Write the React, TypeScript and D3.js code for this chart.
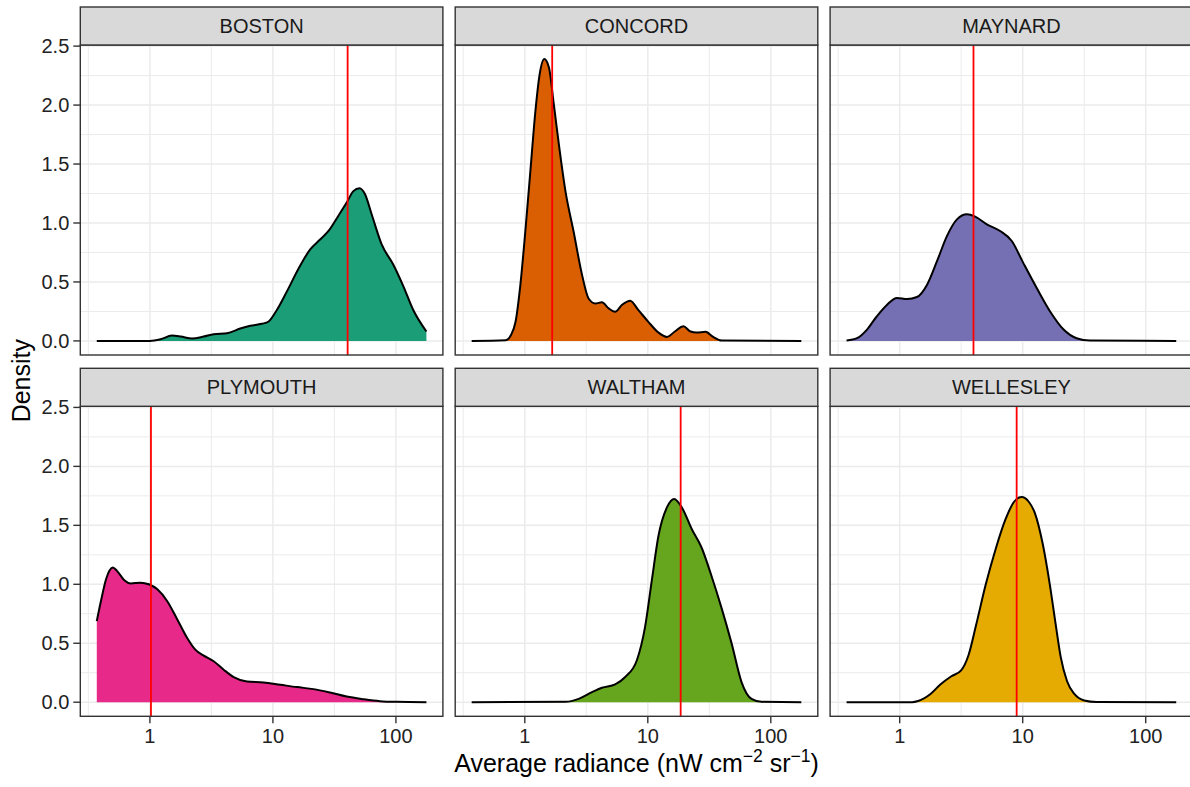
import React, { useEffect, useRef } from 'react';
import * as d3 from 'd3';

// facets, fills, median radiance (red lines)
const cities = ['BOSTON', 'CONCORD', 'MAYNARD', 'PLYMOUTH', 'WALTHAM', 'WELLESLEY'];
const fills = ['#1B9E77', '#D95F02', '#7570B3', '#E7298A', '#66A61E', '#E6AB02'];
const medians = [40.5, 1.67, 3.98, 1.02, 18.5, 8.93];

// density curves: [radiance, density]
const boston = [
  [0.37, 0], [1.0, 0], [1.22, 0.014], [1.51, 0.045], [1.78, 0.037], [2.2, 0.02], [2.74, 0.037],
  [3.3, 0.057], [4.24, 0.065], [5.43, 0.105], [6.55, 0.128], [8.13, 0.145], [9.23, 0.165],
  [10.8, 0.264], [13.0, 0.42], [16.1, 0.61], [20.1, 0.776], [24.2, 0.86], [28.2, 0.93],
  [34.0, 1.06], [39.8, 1.173], [45.1, 1.27], [50.5, 1.295], [56.1, 1.244], [63.5, 1.074],
  [76.6, 0.818], [95.1, 0.648], [115, 0.463], [138, 0.264], [177, 0.08],
];
const concord = [
  [0.37, 0], [0.7, 0.006], [0.77, 0.048], [0.84, 0.16], [0.92, 0.474], [1.01, 0.93], [1.11, 1.44],
  [1.22, 1.95], [1.32, 2.26], [1.44, 2.39], [1.57, 2.32], [1.72, 2.01], [1.89, 1.67], [2.14, 1.27],
  [2.49, 0.93], [2.92, 0.56], [3.3, 0.36], [3.74, 0.318], [4.24, 0.327], [4.8, 0.276], [5.43, 0.247],
  [6.15, 0.304], [7.19, 0.341], [8.39, 0.261], [10.1, 0.162], [12.2, 0.071], [14.3, 0.034],
  [16.7, 0.082], [19.5, 0.125], [22.0, 0.082], [24.9, 0.071], [29.5, 0.077], [34.0, 0.034],
  [39.8, 0.003], [177, 0],
];
const maynard = [
  [0.37, 0.003], [0.45, 0.023], [0.54, 0.094], [0.65, 0.207], [0.79, 0.307], [0.95, 0.364],
  [1.15, 0.355], [1.38, 0.372], [1.67, 0.477], [2.01, 0.676], [2.42, 0.889], [2.92, 1.031],
  [3.52, 1.074], [4.11, 1.054], [5.11, 0.989], [6.55, 0.932], [8.15, 0.847], [10.1, 0.662],
  [13.0, 0.449], [16.7, 0.25], [21.4, 0.099], [27.4, 0.023], [35.2, 0.003], [177, 0],
];
const plymouth = [
  [0.37, 0.688], [0.4, 0.858], [0.44, 1.043], [0.5, 1.142], [0.54, 1.114], [0.62, 1.034],
  [0.7, 1.006], [0.84, 1.014], [0.98, 1.0], [1.15, 0.957], [1.38, 0.858], [1.67, 0.702],
  [2.01, 0.545], [2.34, 0.446], [2.74, 0.395], [3.3, 0.347], [3.98, 0.276], [4.8, 0.213],
  [6.15, 0.176], [8.39, 0.168], [11.5, 0.148], [15.7, 0.128], [21.4, 0.111], [29.2, 0.082],
  [39.8, 0.048], [54.3, 0.026], [74.1, 0.009], [101, 0.003], [177, 0],
];
const waltham = [
  [0.37, 0], [2.14, 0.003], [2.74, 0.028], [3.52, 0.085], [4.24, 0.123], [5.43, 0.151],
  [6.55, 0.214], [8.15, 0.356], [9.51, 0.641], [10.8, 1.04], [12.2, 1.41], [14.3, 1.652],
  [16.4, 1.724], [18.9, 1.652], [22.8, 1.467], [27.4, 1.31], [33.0, 1.068], [39.8, 0.798],
  [48.0, 0.499], [57.8, 0.171], [69.7, 0.028], [83.9, 0.003], [177, 0],
];
const wellesley = [
  [0.37, 0], [1.26, 0], [1.41, 0.01], [1.78, 0.07], [2.14, 0.15], [2.63, 0.22], [3.16, 0.27],
  [3.63, 0.4], [4.17, 0.65], [5.01, 1.0], [6.03, 1.3], [7.24, 1.55], [8.51, 1.7], [9.77, 1.74],
  [11.2, 1.7], [12.6, 1.6], [14.5, 1.35], [16.6, 1.0], [18.6, 0.65], [20.4, 0.38], [22.9, 0.18],
  [26.3, 0.07], [31.6, 0.015], [39.8, 0.002], [177, 0],
];
const series = [boston, concord, maynard, plymouth, waltham, wellesley];

const xTicks = [1, 10, 100];
const xMinor = [0.316, 3.16, 31.6];
const yTicks = [0, 0.5, 1, 1.5, 2, 2.5];
const yMinor = [0.25, 0.75, 1.25, 1.75, 2.25];

const FONT = '"Liberation Sans", Arial, sans-serif';

function App() {
  const ref = useRef<SVGSVGElement>(null);

  const width = 1190;
  const height = 787;
  const left = 80.3;
  const panelW = 362.6;
  const gapX = 12.3;
  const rowTops = [7, 368.3];
  const stripH = 38;
  const panelH = 310;

  useEffect(() => {
    const svg = d3.select(ref.current);
    svg.selectAll('*').remove();

    const all = series.flat() as number[][];
    const lo = Math.log10(d3.min(all, d => d[0])!);
    const hi = Math.log10(d3.max(all, d => d[0])!);
    const pad = (hi - lo) * 0.05;
    const x = d3.scaleLog().domain([10 ** (lo - pad), 10 ** (hi + pad)]).range([0, panelW]);
    const yMax = d3.max(all, d => d[1])!;
    const y = d3.scaleLinear().domain([-yMax * 0.05, yMax * 1.05]).range([panelH, 0]);

    const area = d3.area<number[]>()
      .x(d => x(d[0]))
      .y0(y(0))
      .y1(d => y(d[1]))
      .curve(d3.curveMonotoneX);
    const line = d3.line<number[]>()
      .x(d => x(d[0]))
      .y(d => y(d[1]))
      .curve(d3.curveMonotoneX);

    cities.forEach((city, i) => {
      const col = i % 3;
      const row = Math.floor(i / 3);
      const g = svg.append('g')
        .attr('transform', `translate(${left + col * (panelW + gapX)},${rowTops[row] + stripH})`);

      g.append('rect').attr('width', panelW).attr('height', panelH).attr('fill', '#fff');

      // grid
      yMinor.forEach(v => g.append('line').attr('x1', 0).attr('x2', panelW)
        .attr('y1', y(v)).attr('y2', y(v)).attr('stroke', '#EBEBEB').attr('stroke-width', 1));
      xMinor.forEach(v => g.append('line').attr('y1', 0).attr('y2', panelH)
        .attr('x1', x(v)).attr('x2', x(v)).attr('stroke', '#EBEBEB').attr('stroke-width', 1));
      yTicks.forEach(v => g.append('line').attr('x1', 0).attr('x2', panelW)
        .attr('y1', y(v)).attr('y2', y(v)).attr('stroke', '#EBEBEB').attr('stroke-width', 1.5));
      xTicks.forEach(v => g.append('line').attr('y1', 0).attr('y2', panelH)
        .attr('x1', x(v)).attr('x2', x(v)).attr('stroke', '#EBEBEB').attr('stroke-width', 1.5));

      // density
      g.append('path').datum(series[i]).attr('d', area).attr('fill', fills[i]);
      g.append('path').datum(series[i]).attr('d', line)
        .attr('fill', 'none').attr('stroke', '#000').attr('stroke-width', 2);

      // median line
      g.append('line').attr('x1', x(medians[i])).attr('x2', x(medians[i]))
        .attr('y1', 0).attr('y2', panelH).attr('stroke', '#FF0000').attr('stroke-width', 1.8);

      g.append('rect').attr('width', panelW).attr('height', panelH)
        .attr('fill', 'none').attr('stroke', '#333').attr('stroke-width', 1.4);

      // strip
      g.append('rect').attr('y', -stripH).attr('width', panelW).attr('height', stripH)
        .attr('fill', '#D9D9D9').attr('stroke', '#333').attr('stroke-width', 1.4);
      g.append('text').attr('x', panelW / 2).attr('y', -stripH / 2)
        .attr('text-anchor', 'middle').attr('dominant-baseline', 'central')
        .attr('font-family', FONT).attr('font-size', 20).attr('fill', '#1A1A1A')
        .text(city);

      if (col === 0) {
        yTicks.forEach(v => {
          g.append('line').attr('x1', -7).attr('x2', 0).attr('y1', y(v)).attr('y2', y(v))
            .attr('stroke', '#333').attr('stroke-width', 1.4);
          g.append('text').attr('x', -11).attr('y', y(v))
            .attr('text-anchor', 'end').attr('dominant-baseline', 'central')
            .attr('font-family', FONT).attr('font-size', 20).attr('fill', '#222')
            .text(d3.format('.1f')(v));
        });
      }
      if (row === 1) {
        xTicks.forEach(v => {
          g.append('line').attr('x1', x(v)).attr('x2', x(v)).attr('y1', panelH).attr('y2', panelH + 7)
            .attr('stroke', '#333').attr('stroke-width', 1.4);
          g.append('text').attr('x', x(v)).attr('y', panelH + 27)
            .attr('text-anchor', 'middle')
            .attr('font-family', FONT).attr('font-size', 20).attr('fill', '#222')
            .text(String(v));
        });
      }
    });

    // axis titles
    const panelsMidY = (rowTops[0] + stripH + rowTops[1] + stripH + panelH) / 2;
    svg.append('text')
      .attr('transform', `translate(30,${panelsMidY}) rotate(-90)`)
      .attr('text-anchor', 'middle')
      .attr('font-family', FONT).attr('font-size', 25).attr('fill', '#000')
      .text('Density');

    const xt = svg.append('text')
      .attr('x', left + (3 * panelW + 2 * gapX) / 2).attr('y', 772)
      .attr('text-anchor', 'middle')
      .attr('font-family', FONT).attr('font-size', 25).attr('fill', '#000');
    xt.append('tspan').text('Average radiance (nW cm');
    xt.append('tspan').attr('dy', -10).attr('font-size', 17.5).text('\u22122');
    xt.append('tspan').attr('dy', 10).text(' sr');
    xt.append('tspan').attr('dy', -10).attr('font-size', 17.5).text('\u22121');
    xt.append('tspan').attr('dy', 10).text(')');
  }, []);

  return (
    <svg ref={ref} width={width} height={height}
      style={{ position: 'absolute', left: 0, top: 0, background: '#fff' }} />
  );
}

export default App;
